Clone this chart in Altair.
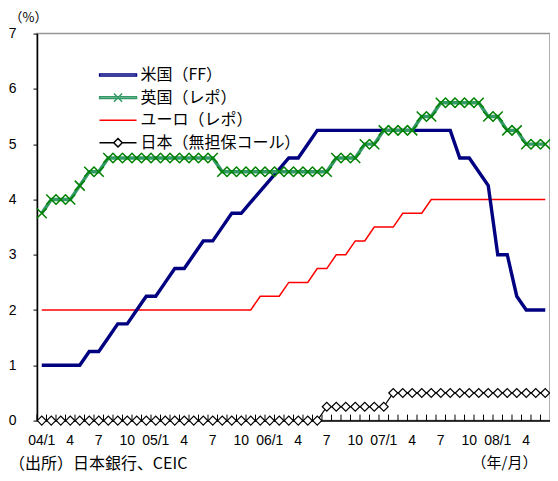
import altair as alt
import pandas as pd

# ---- categories (monthly, 2004/1 - 2008/6) ----
years = [2004] * 12 + [2005] * 12 + [2006] * 12 + [2007] * 12 + [2008] * 6
months_num = list(range(1, 13)) * 4 + list(range(1, 7))
month_labels = [f"{y % 100:02d}/{m}" for y, m in zip(years, months_num)]

# ---- series names ----
names = ["米国（FF）", "英国（レポ）", "ユーロ（レポ）", "日本（無担保コール）"]

# ---- series values (%) ----
us_ff = [1.0, 1.0, 1.0, 1.0, 1.0, 1.25, 1.25, 1.5, 1.75, 1.75, 2.0, 2.25,
         2.25, 2.5, 2.75, 2.75, 3.0, 3.25, 3.25, 3.5, 3.75, 3.75, 3.95, 4.15,
         4.35, 4.55, 4.75, 4.75, 5.0, 5.25, 5.25, 5.25, 5.25, 5.25, 5.25, 5.25,
         5.25, 5.25, 5.25, 5.25, 5.25, 5.25, 5.25, 5.25, 4.75, 4.75, 4.5, 4.25,
         3.0, 3.0, 2.25, 2.0, 2.0, 2.0]
uk_repo = [3.75, 4.0, 4.0, 4.0, 4.25, 4.5, 4.5, 4.75, 4.75, 4.75, 4.75, 4.75,
           4.75, 4.75, 4.75, 4.75, 4.75, 4.75, 4.75, 4.5, 4.5, 4.5, 4.5, 4.5,
           4.5, 4.5, 4.5, 4.5, 4.5, 4.5, 4.5, 4.75, 4.75, 4.75, 5.0, 5.0,
           5.25, 5.25, 5.25, 5.25, 5.5, 5.5, 5.75, 5.75, 5.75, 5.75, 5.75, 5.5,
           5.5, 5.25, 5.25, 5.0, 5.0, 5.0]
euro_repo = [2.0, 2.0, 2.0, 2.0, 2.0, 2.0, 2.0, 2.0, 2.0, 2.0, 2.0, 2.0,
             2.0, 2.0, 2.0, 2.0, 2.0, 2.0, 2.0, 2.0, 2.0, 2.0, 2.0, 2.25,
             2.25, 2.25, 2.5, 2.5, 2.5, 2.75, 2.75, 3.0, 3.0, 3.25, 3.25, 3.5,
             3.5, 3.5, 3.75, 3.75, 3.75, 4.0, 4.0, 4.0, 4.0, 4.0, 4.0, 4.0,
             4.0, 4.0, 4.0, 4.0, 4.0, 4.0]
japan_call = [0.0, 0.0, 0.0, 0.0, 0.0, 0.0, 0.0, 0.0, 0.0, 0.0, 0.0, 0.0,
              0.0, 0.0, 0.0, 0.0, 0.0, 0.0, 0.0, 0.0, 0.0, 0.0, 0.0, 0.0,
              0.0, 0.0, 0.0, 0.0, 0.0, 0.0, 0.25, 0.25, 0.25, 0.25, 0.25, 0.25,
              0.25, 0.5, 0.5, 0.5, 0.5, 0.5, 0.5, 0.5, 0.5, 0.5, 0.5, 0.5,
              0.5, 0.5, 0.5, 0.5, 0.5, 0.5]

y_ticks = [0, 1, 2, 3, 4, 5, 6, 7]
source_text = "（出所）日本銀行、CEIC"

series_values = [us_ff, uk_repo, euro_repo, japan_call]
rows = []
for name, vals in zip(names, series_values):
    for m, v in zip(month_labels, vals):
        rows.append({"month": m, "series": name, "value": v})
df = pd.DataFrame(rows)
df_months = pd.DataFrame({"month": month_labels})

FONT_JP = "Noto Sans CJK SC"
FONT_NUM = "Liberation Sans"

x_axis = alt.Axis(
    title="（年/月）", titleX=467, titleY=42, titleAlign="center",
    titleBaseline="middle", titleFont=FONT_JP, titleFontSize=15,
    titleFontWeight="normal", titleColor="black",
    labelExpr=("indexof(['1','4','7','10'], split(datum.value,'/')[1]) >= 0 ? "
               "(split(datum.value,'/')[1] == '1' ? datum.value : split(datum.value,'/')[1]) : ''"),
    labelAngle=0, labelOverlap=False, labelFont=FONT_NUM, labelFontSize=14,
    labelColor="black", labelPadding=13, ticks=False, tickSize=0,
    domainColor="black", domainWidth=1.5, grid=False,
)
y_axis = alt.Axis(
    title="（%）", titleAngle=0, titleX=-28, titleY=-15.6, titleAlign="left",
    titleBaseline="middle", titleFont=FONT_JP, titleFontSize=13,
    titleFontWeight="normal", titleColor="black",
    values=y_ticks, labelFont=FONT_NUM, labelFontSize=14, labelColor="black",
    labelPadding=17, tickSize=4, tickColor="black", tickWidth=1,
    domainColor="black", domainWidth=1.5, grid=False,
)
x_scale = alt.Scale(type="band", domain=month_labels, paddingInner=0, paddingOuter=0)
y_scale = alt.Scale(domain=[0, 7], nice=False)


def X(bp=0.5):
    return alt.X("month:N", scale=x_scale, axis=x_axis, bandPosition=bp, sort=month_labels)


def Y():
    return alt.Y("value:Q", scale=y_scale, axis=y_axis)


base = alt.Chart(df)

ticks = alt.Chart(df_months).mark_rule(color="black", strokeWidth=1).encode(
    x=X(0), y=alt.value(381), y2=alt.value(387)
)


def sel(name):
    return alt.datum.series == name


euro_line = base.transform_filter(sel(names[2])).mark_line(
    color="#ff0000", strokeWidth=1.5).encode(x=X(), y=Y())
jp_line = base.transform_filter(sel(names[3])).mark_line(
    color="black", strokeWidth=1.2).encode(x=X(), y=Y())
us_line = base.transform_filter(sel(names[0])).mark_line(
    color="#000080", strokeWidth=3.4).encode(x=X(), y=Y())
uk_line = base.transform_filter(sel(names[1])).mark_line(
    color="#339966", strokeWidth=3.4).encode(x=X(), y=Y())
uk_pts = base.transform_filter(sel(names[1])).mark_point(
    shape="M-1,-1L1,1M-1,1L1,-1", size=100, color="#008000", filled=False,
    strokeWidth=1.5, opacity=1).encode(x=X(), y=Y())
jp_pts = base.transform_filter(sel(names[3])).mark_point(
    shape="diamond", size=80, fill="white", stroke="black", filled=True,
    strokeWidth=1.2, opacity=1).encode(x=X(), y=Y())

# legend carrier (no data drawn)
legend_colors = ["#000080", "#339966", "#ff0000", "black"]
legend_paths = [
    "M-1,-0.05H1V0.05H-1Z",
    "M-1,-0.05H1V0.05H-1ZM-0.22,-0.22L0.22,0.22M-0.22,0.22L0.22,-0.22",
    "M-1,0H1",
    "M-1,0H-0.23M0.23,0H1M-0.23,0L0,-0.23L0.23,0L0,0.23Z",
]
leg = alt.Legend(
    orient="none", legendX=61.5, legendY=34.4, title=None, padding=0,
    labelFont=FONT_JP, labelFontSize=16, labelColor="black", labelOffset=3,
    labelLimit=0, symbolSize=1369, symbolStrokeWidth=1.5, clipHeight=14,
    rowPadding=6.6, symbolFillColor="transparent",
)
legend_layer = base.transform_filter("false").mark_point(filled=False, opacity=1).encode(
    x=X(), y=Y(),
    color=alt.Color("series:N", scale=alt.Scale(domain=names, range=legend_colors), legend=leg),
    shape=alt.Shape("series:N", scale=alt.Scale(domain=names, range=legend_paths), legend=leg),
)

source = alt.Chart(alt.Data(values=[{"t": source_text}])).mark_text(
    align="left", baseline="middle", font=FONT_JP, fontSize=16, color="black"
).encode(text="t:N", x=alt.value(-28), y=alt.value(430))

chart = alt.layer(
    ticks, euro_line, jp_line, us_line, uk_line, uk_pts, jp_pts, legend_layer, source
).properties(
    width=513, height=387,
    padding={"left": 29, "top": 25.6, "right": 0, "bottom": 52},
    autosize=alt.AutoSizeParams(type="none"),
).configure_view(
    stroke="#969696", strokeWidth=1.5
)

chart.save("out.html", embed_options={"renderer": "svg", "actions": False})
